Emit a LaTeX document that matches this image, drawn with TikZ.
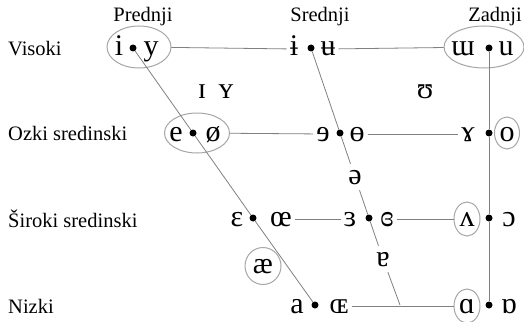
\documentclass[tikz,border=0pt]{standalone}
\usepackage{fontspec}
\setmainfont{Liberation Serif}
\usetikzlibrary{shapes.geometric}
\newcommand{\ipasize}{\fontsize{30}{32}\selectfont}
\newcommand{\labsize}{\fontsize{20.5}{22}\selectfont}
\begin{document}
\begin{tikzpicture}[x=1pt, y=-1pt,
  v/.style={font=\ipasize, inner sep=3pt, text height=14pt, text depth=0pt},
  mid/.style={v, inner sep=6pt},
  pt/.style={circle, fill=black, inner sep=0pt, minimum size=7pt},
  ring/.style={ellipse, draw=gray!70, line width=1pt, inner sep=0pt},
  ln/.style={draw=gray, line width=0.8pt},
  col/.style={font=\labsize, anchor=base, inner sep=0pt},
  row/.style={font=\labsize, anchor=base west, inner sep=0pt}]
 \useasboundingbox (0,0) rectangle (524,321);
 \node[col] (pred) at (143,22) {Prednji};
 \node[col] (sred) at (320,22) {Srednji};
 \node[col] (zad) at (495,22) {Zadnji};
 \node[row] (vis) at (8,56) {Visoki};
 \node[row] (ozk) at (8,140) {Ozki sredinski};
 \node[row] (sir) at (8,227) {Široki sredinski};
 \node[row] (niz) at (8,313) {Nizki};
 \node[ring, minimum width=64pt, minimum height=42pt] (r1) at (139,47) {};
 \node[ring, minimum width=65pt, minimum height=40pt] (r2) at (197,133) {};
 \node[ring, minimum width=80pt, minimum height=42pt] (r3) at (484,47) {};
 \node[ring, minimum width=25pt, minimum height=32pt] (r4) at (507,133) {};
 \node[ring, minimum width=26pt, minimum height=34pt] (r5) at (467,219) {};
 \node[ring, minimum width=26pt, minimum height=34pt] (r6) at (467,306) {};
 \node[pt] (d11) at (133,48) {};
 \node[pt] (d12) at (311,48) {};
 \node[pt] (d13) at (489,48) {};
 \node[pt] (d21) at (193,133) {};
 \node[pt] (d22) at (340,133) {};
 \node[pt] (d23) at (489,133) {};
 \node[pt] (d31) at (253,218) {};
 \node[pt] (d32) at (369,218) {};
 \node[pt] (d33) at (489,218) {};
 \node[pt] (d41) at (315,305) {};
 \node[pt] (d43) at (489,305) {};
 \node[v] (i) at (119,49) {i};
 \node[v] (y) at (151,49) {y};
 \node[v] (ibar) at (294,49) {ɨ};
 \node[v] (ubar) at (328,49) {ʉ};
 \node[v] (mu) at (463,49) {ɯ};
 \node[v] (u) at (506,49) {u};
 \node[v] (e) at (176,134) {e};
 \node[v] (oslash) at (213,134) {ø};
 \node[v] (reve) at (323,134) {ɘ};
 \node[v] (obar) at (357,134) {ɵ};
 \node[v] (gam) at (468,134) {ɤ};
 \node[v] (o) at (507,134) {o};
 \node[v] (eps) at (237,219) {ɛ};
 \node[v] (oe) at (281,219) {œ};
 \node[v] (reps) at (350,219) {ɜ};
 \node[v] (cleps) at (387,219) {ɞ};
 \node[v] (wedge) at (467,219) {ʌ};
 \node[v] (oopen) at (509,219) {ɔ};
 \node[v] (a) at (297,306) {a};
 \node[v] (OE) at (339,306) {ɶ};
 \node[v] (alpha) at (467,306) {ɑ};
 \node[v] (ralpha) at (509,306) {ɒ};
 \node[v] (Ismall) at (202,91) {ɪ};
 \node[v] (Ysmall) at (226,91) {ʏ};
 \node[v] (upsi) at (425,91) {ʊ};
 \node[mid] (schwa) at (355,177) {ə};
 \node[mid] (turna) at (383,259) {ɐ};
 \node[v, ring, minimum width=36pt, minimum height=37pt] (ae) at (263,266) {æ};
 \coordinate (j) at (400,305);
 \draw[ln] (r1) -- (ibar);
 \draw[ln] (ubar) -- (r3);
 \draw[ln] (r2) -- (reve);
 \draw[ln] (obar) -- (gam);
 \draw[ln] (oe) -- (reps);
 \draw[ln] (cleps) -- (r5);
 \draw[ln] (OE) -- (r6);
 \draw[ln] (d11) -- (d21) -- (d31) -- (d41);
 \draw[ln] (d12) -- (d22) -- (schwa);
 \draw[ln] (schwa) -- (d32) -- (turna);
 \draw[ln] (turna) -- (j);
 \draw[ln] (d13) -- (d23) -- (d33) -- (d43);
\end{tikzpicture}
\end{document}
